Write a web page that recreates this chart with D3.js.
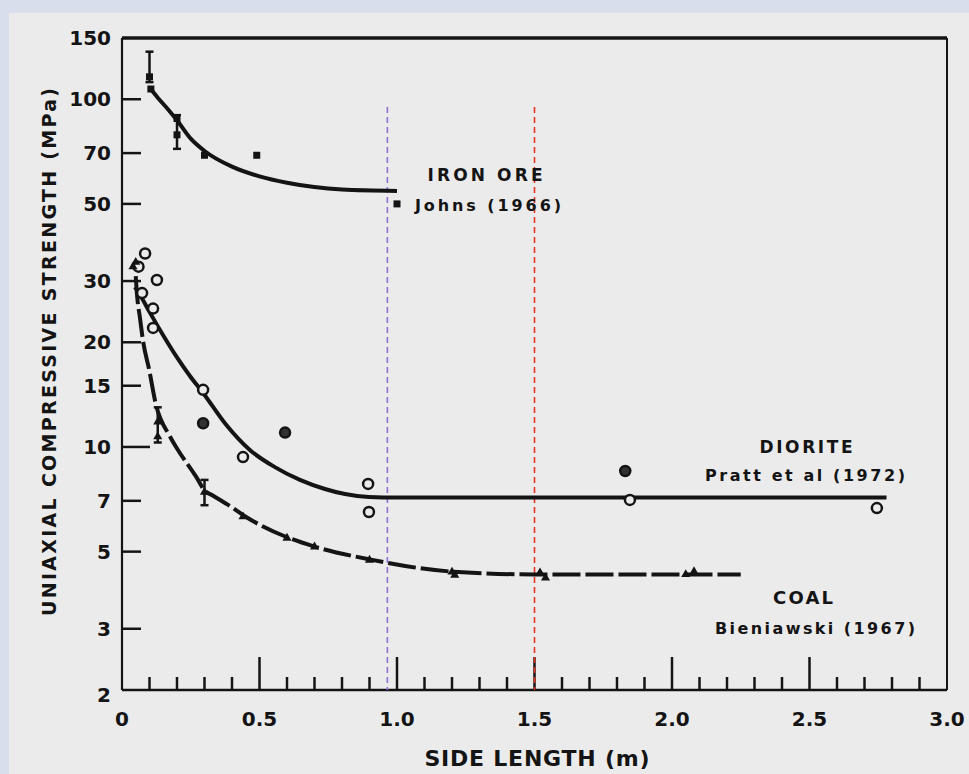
<!DOCTYPE html>
<html><head><meta charset="utf-8">
<script src="https://cdn.jsdelivr.net/npm/d3@7"></script>
<style>body{margin:0;background:#d8deeb;} svg{display:block}</style>
</head><body><svg id="c" width="969" height="774"></svg>
<script>
// ---- data ----
const yTickValues = [100, 70, 50, 30, 20, 15, 10, 7, 5, 3];
const yTickLabels = ["150", "100", "70", "50", "30", "20", "15", "10", "7", "5", "3", "2"];
const yLabelValues = [150, 100, 70, 50, 30, 20, 15, 10, 7, 5, 3, 2];
const xLabelValues = [0, 0.5, 1.0, 1.5, 2.0, 2.5, 3.0];
const xTickLabels = ["0", "0.5", "1.0", "1.5", "2.0", "2.5", "3.0"];

const ironCurveX = [0.10, 0.13, 0.17, 0.20, 0.25, 0.30, 0.40, 0.50, 0.60, 0.80, 1.00];
const ironCurveY = [108, 101, 93, 87, 77, 71, 64, 60, 57.5, 55, 54.5];
const ironPtsX = [0.10, 0.105, 0.20, 0.20, 0.30, 0.49, 1.00];
const ironPtsY = [116, 107, 88, 79, 69, 69, 50];
const ironErrX = [0.10, 0.20];
const ironErrLo = [112, 72];
const ironErrHi = [137, 90];

const dioriteCurveX = [0.047, 0.065, 0.102, 0.149, 0.20, 0.247, 0.295, 0.378, 0.465, 0.556, 0.647, 0.738, 0.811, 0.898, 1.00, 1.50, 2.00, 2.78];
const dioriteCurveY = [28.8, 27.4, 24.3, 21.0, 18.1, 16.0, 14.3, 11.6, 9.8, 8.75, 8.04, 7.57, 7.32, 7.18, 7.15, 7.15, 7.15, 7.15];
const dioritePtsX = [0.06, 0.084, 0.127, 0.073, 0.113, 0.113, 0.295, 0.295, 0.593, 0.44, 0.895, 0.898, 1.83, 1.847, 2.745];
const dioritePtsY = [33, 36, 30.2, 27.7, 25, 22, 14.6, 11.7, 11, 9.35, 7.83, 6.5, 8.53, 7.04, 6.67];
const dioriteFilled = [0, 0, 0, 0, 0, 0, 0, 1, 1, 0, 0, 0, 1, 0, 0];

const coalCurveX = [0.05, 0.055, 0.065, 0.076, 0.10, 0.12, 0.175, 0.20, 0.27, 0.30, 0.33, 0.40, 0.45, 0.60, 0.70, 0.90, 1.20, 1.50, 2.25];
const coalCurveY = [31, 27.2, 23.6, 20.3, 16.5, 13.6, 10.7, 9.9, 8.2, 7.5, 7.25, 6.7, 6.3, 5.5, 5.17, 4.75, 4.38, 4.3, 4.3];
const coalPtsX = [0.04, 0.05, 0.13, 0.13, 0.30, 0.44, 0.60, 0.70, 0.90, 1.20, 1.21, 1.52, 1.54, 2.05, 2.08];
const coalPtsY = [33, 34, 11.8, 10.7, 7.42, 6.3, 5.47, 5.16, 4.73, 4.37, 4.28, 4.35, 4.2, 4.3, 4.38];
const coalErrX = [0.13, 0.30];
const coalErrLo = [10.3, 6.8];
const coalErrHi = [13, 8.04];

const refLinesX = [0.965, 1.5];
const refLineColors = ["#8f6fd3", "#e8321f"];

// ---- layout ----
const svg = d3.select("#c");
const x = d3.scaleLinear().domain([0, 3]).range([122, 947]);
const y = d3.scaleLog().domain([2, 150]).range([690, 38]);
const ink = "#141414";
const font = "'DejaVu Sans', sans-serif";

svg.append("rect").attr("x", 9).attr("y", 13).attr("width", 960).attr("height", 761).attr("fill", "#ebebeb");

// frame
svg.append("line").attr("x1", x(0)).attr("x2", x(3)).attr("y1", y(150)).attr("y2", y(150)).attr("stroke", ink).attr("stroke-width", 3.5);
svg.append("line").attr("x1", x(3)).attr("x2", x(3)).attr("y1", y(150)).attr("y2", y(2)).attr("stroke", ink).attr("stroke-width", 2);
svg.append("line").attr("x1", x(0)).attr("x2", x(0)).attr("y1", y(150)).attr("y2", y(2)).attr("stroke", ink).attr("stroke-width", 2.2);
svg.append("line").attr("x1", x(0)).attr("x2", x(3)).attr("y1", y(2)).attr("y2", y(2)).attr("stroke", ink).attr("stroke-width", 2.5);

// y ticks (inward)
svg.selectAll(".yt").data(yTickValues).enter().append("line")
  .attr("x1", x(0)).attr("x2", d => x(0) + (d === 10 ? 28 : 19))
  .attr("y1", d => y(d)).attr("y2", d => y(d)).attr("stroke", ink).attr("stroke-width", 2.5);
svg.selectAll(".yl").data(yLabelValues).enter().append("text")
  .attr("x", 111).attr("y", (d, i) => y(d) + (d === 2 ? 5 : 0)).attr("dy", "0.36em")
  .attr("text-anchor", "end").attr("font-family", font).attr("font-weight", "bold")
  .attr("font-size", 20).attr("fill", ink).text((d, i) => yTickLabels[i]);

// x ticks (inward)
const minorX = d3.range(1, 30).map(i => i / 10);
svg.selectAll(".xt").data(minorX).enter().append("line")
  .attr("x1", d => x(d)).attr("x2", d => x(d)).attr("y1", y(2))
  .attr("y2", d => y(2) - (Math.round(d * 10) % 5 === 0 ? 33 : 13))
  .attr("stroke", ink).attr("stroke-width", 2.5);
svg.selectAll(".xl").data(xLabelValues).enter().append("text")
  .attr("x", d => x(d)).attr("y", 726).attr("text-anchor", "middle")
  .attr("font-family", font).attr("font-weight", "bold").attr("font-size", 20).attr("fill", ink)
  .text((d, i) => xTickLabels[i]);

// axis titles
svg.append("text").attr("x", 537).attr("y", 766).attr("text-anchor", "middle")
  .attr("font-family", font).attr("font-weight", "bold").attr("font-size", 22).attr("fill", ink)
  .attr("textLength", 225).attr("lengthAdjust", "spacing").text("SIDE LENGTH (m)");
svg.append("text").attr("transform", "translate(56,352) rotate(-90)").attr("text-anchor", "middle")
  .attr("font-family", font).attr("font-weight", "bold").attr("font-size", 19).attr("fill", ink)
  .attr("textLength", 528).attr("lengthAdjust", "spacing").text("UNIAXIAL COMPRESSIVE STRENGTH (MPa)");

// reference lines
svg.selectAll(".ref").data(refLinesX).enter().append("line")
  .attr("x1", d => x(d)).attr("x2", d => x(d)).attr("y1", 107).attr("y2", y(2))
  .attr("stroke", (d, i) => refLineColors[i]).attr("stroke-width", 1.6).attr("stroke-dasharray", "6,4");

const line = d3.line().x(d => x(d[0])).y(d => y(d[1])).curve(d3.curveMonotoneX);
const zip = (a, b) => a.map((v, i) => [v, b[i]]);

svg.append("path").attr("d", line(zip(ironCurveX, ironCurveY))).attr("fill", "none").attr("stroke", ink).attr("stroke-width", 4);
svg.append("path").attr("d", line(zip(dioriteCurveX, dioriteCurveY))).attr("fill", "none").attr("stroke", ink).attr("stroke-width", 4);
svg.append("path").attr("d", line(zip(coalCurveX, coalCurveY))).attr("fill", "none").attr("stroke", ink).attr("stroke-width", 4).attr("stroke-dasharray", "28,5");

// error bars
function errBars(xs, lo, hi) {
  xs.forEach((xv, i) => {
    const g = svg.append("g").attr("stroke", ink).attr("stroke-width", 2.5);
    g.append("line").attr("x1", x(xv)).attr("x2", x(xv)).attr("y1", y(lo[i])).attr("y2", y(hi[i]));
    g.append("line").attr("x1", x(xv) - 4).attr("x2", x(xv) + 4).attr("y1", y(lo[i])).attr("y2", y(lo[i]));
    g.append("line").attr("x1", x(xv) - 4).attr("x2", x(xv) + 4).attr("y1", y(hi[i])).attr("y2", y(hi[i]));
  });
}
errBars(ironErrX, ironErrLo, ironErrHi);
errBars(coalErrX, coalErrLo, coalErrHi);

// markers
svg.selectAll(".ip").data(zip(ironPtsX, ironPtsY)).enter().append("rect")
  .attr("x", d => x(d[0]) - 3.5).attr("y", d => y(d[1]) - 3.5).attr("width", 7).attr("height", 7).attr("fill", ink);
svg.selectAll(".dp").data(zip(dioritePtsX, dioritePtsY)).enter().append("circle")
  .attr("cx", d => x(d[0])).attr("cy", d => y(d[1])).attr("r", 5)
  .attr("fill", (d, i) => dioriteFilled[i] ? "#333" : "#ebebeb").attr("stroke", ink).attr("stroke-width", 2.5);
svg.selectAll(".cp").data(zip(coalPtsX, coalPtsY)).enter().append("path")
  .attr("transform", d => `translate(${x(d[0])},${y(d[1])})`)
  .attr("d", d3.symbol(d3.symbolTriangle, 36)).attr("fill", ink);

// annotations
function label(txt, cx, cy, size, len) {
  svg.append("text").attr("x", cx).attr("y", cy).attr("dy", "0.35em").attr("text-anchor", "middle")
    .attr("font-family", font).attr("font-weight", "bold").attr("font-size", size).attr("fill", ink)
    .attr("textLength", len).attr("lengthAdjust", "spacing").text(txt);
}
label("IRON ORE", 485, 175, 17, 115);
label("Johns (1966)", 488, 205, 16, 146);
label("DIORITE", 806, 447, 17, 93);
label("Pratt et al (1972)", 805, 475, 16, 200);
label("COAL", 803, 598, 18, 60);
label("Bieniawski (1967)", 815, 628, 16, 200);
</script></body></html>
